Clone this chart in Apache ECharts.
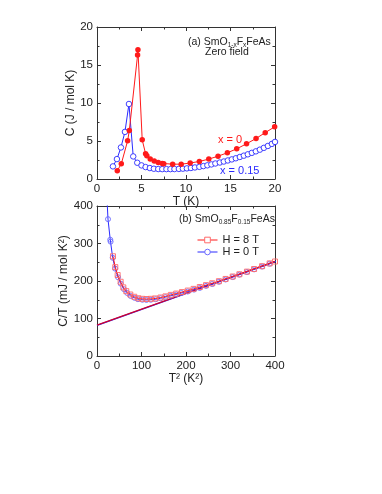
<!DOCTYPE html>
<html><head><meta charset="utf-8">
<script src="https://cdn.jsdelivr.net/npm/echarts@6/dist/echarts.min.js"></script>
<style>html,body{margin:0;padding:0;background:#fff}#c{width:382px;height:494px}</style>
</head><body><div id="c"></div>
<script>
// Panel (a): C vs T
const redT = [2.28, 2.73, 3.44, 3.63, 4.56, 4.6, 5.08, 5.46, 5.6, 5.98, 6.43, 6.88, 7.33, 7.5, 8.5, 9.46, 10.47, 11.5, 12.56, 13.6, 14.65, 15.7, 16.8, 17.87, 18.9, 19.96];
const redC = [1.09, 2.0, 5.02, 6.38, 16.3, 17.0, 5.15, 3.32, 3.06, 2.62, 2.36, 2.18, 2.05, 2.0, 1.95, 1.95, 2.1, 2.31, 2.62, 3.0, 3.45, 3.97, 4.63, 5.33, 6.1, 6.86];
const blueT = [1.79, 2.24, 2.69, 3.14, 3.59, 4.07, 4.52, 5.0, 5.46, 5.94, 6.39, 6.88, 7.33, 7.8, 8.25, 8.7, 9.2, 9.65, 10.1, 10.55, 11.0, 11.5, 11.95, 12.4, 12.85, 13.3, 13.8, 14.25, 14.7, 15.15, 15.6, 16.05, 16.5, 16.95, 17.4, 17.85, 18.3, 18.75, 19.2, 19.65, 20.0];
const blueC = [1.66, 2.62, 4.15, 6.2, 9.87, 2.97, 2.14, 1.79, 1.57, 1.44, 1.35, 1.31, 1.3, 1.3, 1.3, 1.31, 1.33, 1.36, 1.4, 1.45, 1.52, 1.6, 1.7, 1.8, 1.92, 2.04, 2.17, 2.3, 2.44, 2.58, 2.73, 2.9, 3.07, 3.25, 3.44, 3.64, 3.86, 4.1, 4.35, 4.62, 4.88];
// Panel (b): C/T vs T^2
const sqT2 = [35.9, 41.1, 46.4, 53.1, 59.1, 65.8, 74.8, 83.7, 92.7, 101.7, 111.4, 121, 130.8, 142.8, 154, 166, 178, 191, 204, 217, 231, 245, 259, 274, 289, 305, 320, 337, 353, 371, 388, 400];
const sqCT = [266, 237, 216, 198, 183, 173, 164, 158, 154, 152.5, 152, 152.5, 153.5, 156, 159, 163, 166.5, 170.5, 174.5, 179, 184, 189, 194, 199.5, 205.5, 212, 218, 225, 232, 239.5, 247, 252];
const ciT2 = [20.3, 24.7, 29.8, 30.6, 35.3, 40.8, 47.3, 53.3, 60.8, 68, 75.7, 84.6, 92, 102, 111, 121, 132, 143, 154, 166, 178, 190, 204, 218, 231, 245, 259, 274, 289, 305, 320, 337, 353, 371, 388, 404];
const ciCT = [470, 365, 310, 305, 262, 233, 210, 193, 178, 168, 160, 155, 151.5, 150, 149.5, 150, 151.5, 154, 157, 160.5, 164, 168, 172, 177, 181.5, 187, 192, 198, 204, 210.5, 217, 224, 231, 238.5, 246, 253];
const fitRed = [[0, 82.5], [400, 252.5]];
const fitBlue = [[0, 81.5], [400, 251.5]];
const xTicksA = [0, 5, 10, 15, 20];
const yTicksA = [0, 5, 10, 15, 20];
const xTicksB = [0, 100, 200, 300, 400];
const yTicksB = [0, 100, 200, 300, 400];

const FF = '"Liberation Sans", Arial, sans-serif';
const RED = '#ff1a1a', BLUE = '#2b2bff';
const zip = (a, b) => a.map((v, i) => [v, b[i]]);
const axisCol = '#333';

function xAx(grid, ticks, name, show, pos, gap) {
  return {
    type: 'value', gridIndex: grid, min: ticks[0], max: ticks[ticks.length - 1],
    interval: ticks[1] - ticks[0], position: pos,
    name: show ? name : '', nameLocation: 'middle', nameGap: show ? gap : 0,
    nameTextStyle: { fontFamily: FF, fontSize: 12, color: '#222' },
    axisLine: { show: true, onZero: false, lineStyle: { color: axisCol, width: 1 } },
    axisTick: { show: true, inside: true, length: 4, lineStyle: { color: axisCol } },
    minorTick: { show: true, splitNumber: 2, length: 2.5, lineStyle: { color: axisCol } },
    axisLabel: { show: show, margin: 4, fontFamily: FF, fontSize: 11.5, color: '#222' },
    splitLine: { show: false }
  };
}
function yAx(grid, ticks, name, show, pos, gap) {
  return {
    type: 'value', gridIndex: grid, min: ticks[0], max: ticks[ticks.length - 1],
    interval: ticks[1] - ticks[0], position: pos,
    name: show ? name : '', nameLocation: 'middle', nameGap: show ? gap : 0,
    nameTextStyle: { fontFamily: FF, fontSize: 12, color: '#222' },
    axisLine: { show: true, onZero: false, lineStyle: { color: axisCol, width: 1 } },
    axisTick: { show: true, inside: true, length: 4, lineStyle: { color: axisCol } },
    minorTick: { show: true, splitNumber: 2, length: 2.5, lineStyle: { color: axisCol } },
    axisLabel: { show: show, margin: 4, fontFamily: FF, fontSize: 11.5, color: '#222' },
    splitLine: { show: false }
  };
}

const richBase = {
  n: { fontFamily: FF, fontSize: 10.5, fontWeight: 'normal', lineHeight: 14, color: '#222', verticalAlign: 'middle' },
  s: { fontFamily: FF, fontSize: 6.5, fontWeight: 'normal', lineHeight: 6, color: '#222', verticalAlign: 'bottom' }
};
const plainTitle = (text, left, top, color, size) => ({
  text, left, top, padding: 0,
  textStyle: { fontFamily: FF, fontSize: size, color, fontWeight: 'normal' }
});

const chart = echarts.init(document.getElementById('c'), null, { renderer: 'canvas' });
chart.setOption({
  backgroundColor: '#fff',
  animation: false,
  grid: [
    { left: 97, top: 27, width: 178, height: 152 },
    { left: 97, top: 206, width: 178, height: 150 }
  ],
  xAxis: [
    xAx(0, xTicksA, 'T (K)', true, 'bottom', 10),
    xAx(0, xTicksA, '', false, 'top', 0),
    xAx(1, xTicksB, 'T² (K²)', true, 'bottom', 16),
    xAx(1, xTicksB, '', false, 'top', 0)
  ],
  yAxis: [
    yAx(0, yTicksA, 'C (J / mol K)', true, 'left', 18),
    yAx(0, yTicksA, '', false, 'right', 0),
    yAx(1, yTicksB, 'C/T (mJ / mol K²)', true, 'left', 22),
    yAx(1, yTicksB, '', false, 'right', 0)
  ],
  title: [
    { text: '{n|(a) SmO}{s|1-x}{n|F}{s|x}{n|FeAs}', left: 188, top: 35, padding: 0, textStyle: { fontWeight: 'normal', rich: richBase } },
    plainTitle('Zero field', 205, 47, '#222', 10.5),
    plainTitle('x = 0', 218, 134, RED, 11),
    plainTitle('x = 0.15', 220, 165, BLUE, 11),
    { text: '{n|(b) SmO}{s|0.85}{n|F}{s|0.15}{n|FeAs}', left: 179, top: 212, padding: 0, textStyle: { fontWeight: 'normal', rich: richBase } }
  ],
  legend: {
    data: [
      { name: 'H = 8 T', itemStyle: { color: '#fff', borderColor: '#ff6a6a', borderWidth: 1 }, lineStyle: { width: 1, color: RED } },
      { name: 'H = 0 T', itemStyle: { color: '#fff', borderColor: '#6a6aff', borderWidth: 1 }, lineStyle: { width: 1, color: BLUE } }
    ],
    orient: 'vertical', left: 197, top: 234, padding: 0,
    itemWidth: 20, itemHeight: 7, itemGap: 0,
    textStyle: { fontFamily: FF, fontSize: 11, color: '#222', lineHeight: 12 }
  },
  series: [
    { type: 'line', name: 'x0', xAxisIndex: 0, yAxisIndex: 0, data: zip(redT, redC),
      symbol: 'circle', symbolSize: 5.5, itemStyle: { color: RED }, lineStyle: { color: RED, width: 1 }, z: 3 },
    { type: 'line', name: 'x015', xAxisIndex: 0, yAxisIndex: 0, data: zip(blueT, blueC),
      symbol: 'circle', symbolSize: 5.5, itemStyle: { color: '#fff', borderColor: BLUE, borderWidth: 0.9 },
      lineStyle: { color: BLUE, width: 1 }, z: 2 },
    { type: 'line', name: 'fitB', xAxisIndex: 2, yAxisIndex: 2, data: fitBlue, symbol: 'none',
      lineStyle: { color: BLUE, width: 1.2 }, z: 1 },
    { type: 'line', name: 'fitR', xAxisIndex: 2, yAxisIndex: 2, data: fitRed, symbol: 'none',
      lineStyle: { color: '#d0002a', width: 1.2 }, z: 1 },
    { type: 'line', name: 'H = 0 T', xAxisIndex: 2, yAxisIndex: 2, data: zip(ciT2, ciCT),
      symbol: 'circle', symbolSize: 5, clip: true,
      itemStyle: { color: 'rgba(255,255,255,0)', borderColor: '#6a6aff', borderWidth: 0.9 },
      lineStyle: { color: BLUE, width: 1 }, z: 2 },
    { type: 'line', name: 'H = 8 T', xAxisIndex: 2, yAxisIndex: 2, data: zip(sqT2, sqCT),
      symbol: 'rect', symbolSize: 5, clip: true,
      itemStyle: { color: 'rgba(255,255,255,0)', borderColor: '#ff6a6a', borderWidth: 0.9 },
      lineStyle: { color: RED, width: 1 }, z: 3 }
  ]
});
</script></body></html>
